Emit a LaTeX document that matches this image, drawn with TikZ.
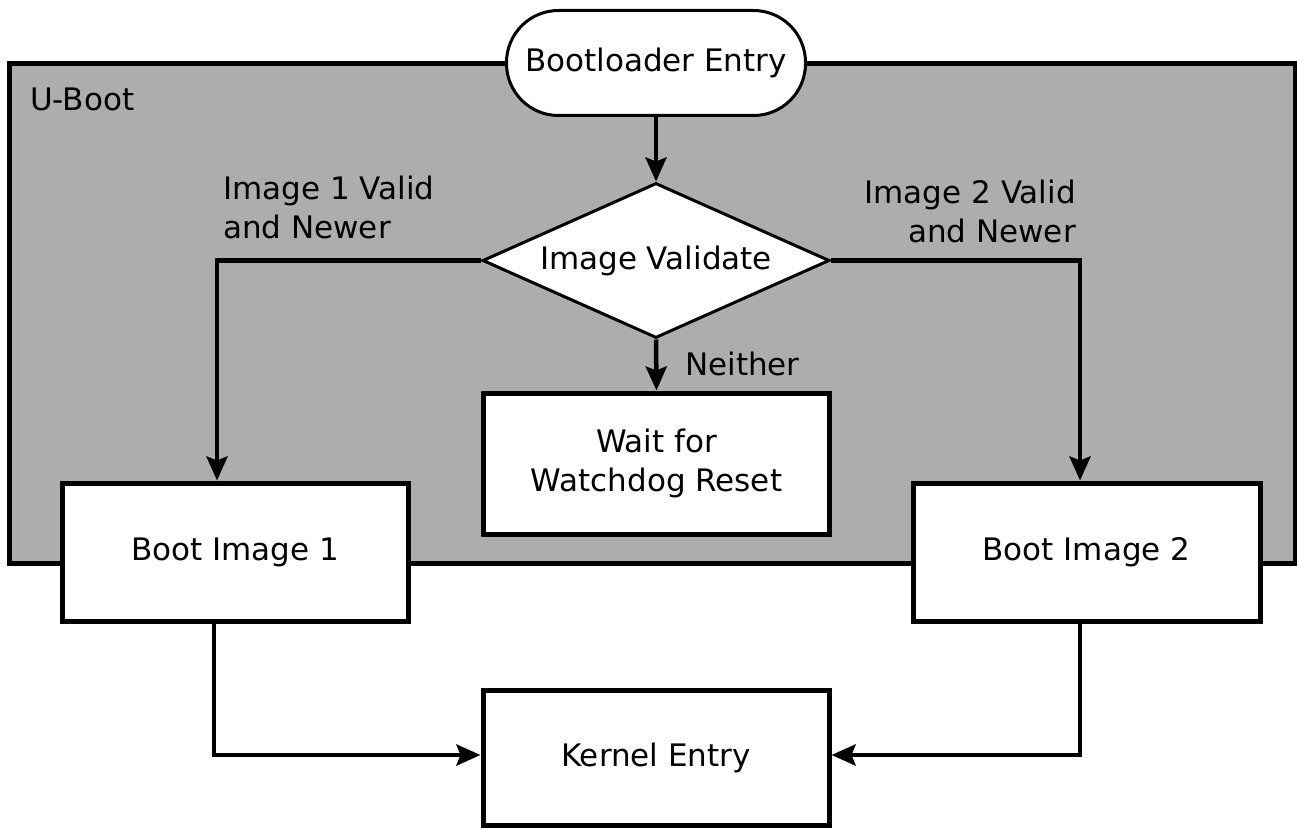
\documentclass[tikz,border=0pt]{standalone}
\usepackage{fontspec}
\setmainfont{DejaVu Sans}
\usetikzlibrary{shapes.geometric,arrows.meta}
\definecolor{ubootgray}{RGB}{173,173,173}
\begin{document}
\begin{tikzpicture}[x=1pt,y=-1pt,
  every node/.style={font=\fontsize{31pt}{39pt}\selectfont},
  container/.style={draw, fill=ubootgray, line width=5pt, inner sep=0pt},
  box/.style={draw, fill=white, line width=5pt, inner sep=0pt, align=center},
  terminal/.style={draw, fill=white, line width=3pt, rounded corners=52pt, inner sep=0pt},
  decision/.style={diamond, draw, fill=white, line width=3pt, inner sep=0pt, aspect=2.24},
  conn/.style={line width=4.5pt, -{Stealth[length=24pt,width=21pt,inset=4pt]}},
  lbl/.style={inner sep=0pt}
]
\useasboundingbox (0,0) rectangle (1297,829);
\node[container, minimum width=1286pt, minimum height=499pt] (uboot) at (652,313.5) {};
\node[lbl, anchor=base west] (ubootlbl) at (30,111) {U-Boot};

\node[terminal, minimum width=299pt, minimum height=105pt] (entry) at (656,63) {Bootloader Entry};
\node[decision, minimum width=347pt, minimum height=155pt] (val) at (656,260.5) {Image Validate};
\node[box, minimum width=346pt, minimum height=141pt] (wait) at (656.5,463.5) {Wait for\\Watchdog Reset};
\node[box, minimum width=346pt, minimum height=138pt] (b1) at (235,552) {Boot Image 1};
\node[box, minimum width=347pt, minimum height=138pt] (b2) at (1086.5,552) {Boot Image 2};
\node[box, minimum width=346pt, minimum height=134.5pt] (kern) at (656,758) {Kernel Entry};

\node[lbl, anchor=north west, align=left] (l1) at (223,176) {Image 1 Valid\\and Newer};
\node[lbl, anchor=north east, align=right] (l2) at (1076,180) {Image 2 Valid\\and Newer};
\node[lbl, anchor=base west] (l3) at (685,375) {Neither};

\draw[conn] (entry.south) -- (val.north);
\draw[conn] (val.west) -| ([xshift=-18pt]b1.north);
\draw[conn] (val.east) -| ([xshift=-6.5pt]b2.north);
\draw[conn] (val.south) -- (wait.north);
\draw[conn] ([xshift=-21pt]b1.south) |- ([yshift=3pt]kern.west);
\draw[conn] ([xshift=-6.5pt]b2.south) |- ([yshift=3pt]kern.east);
\end{tikzpicture}
\end{document}
